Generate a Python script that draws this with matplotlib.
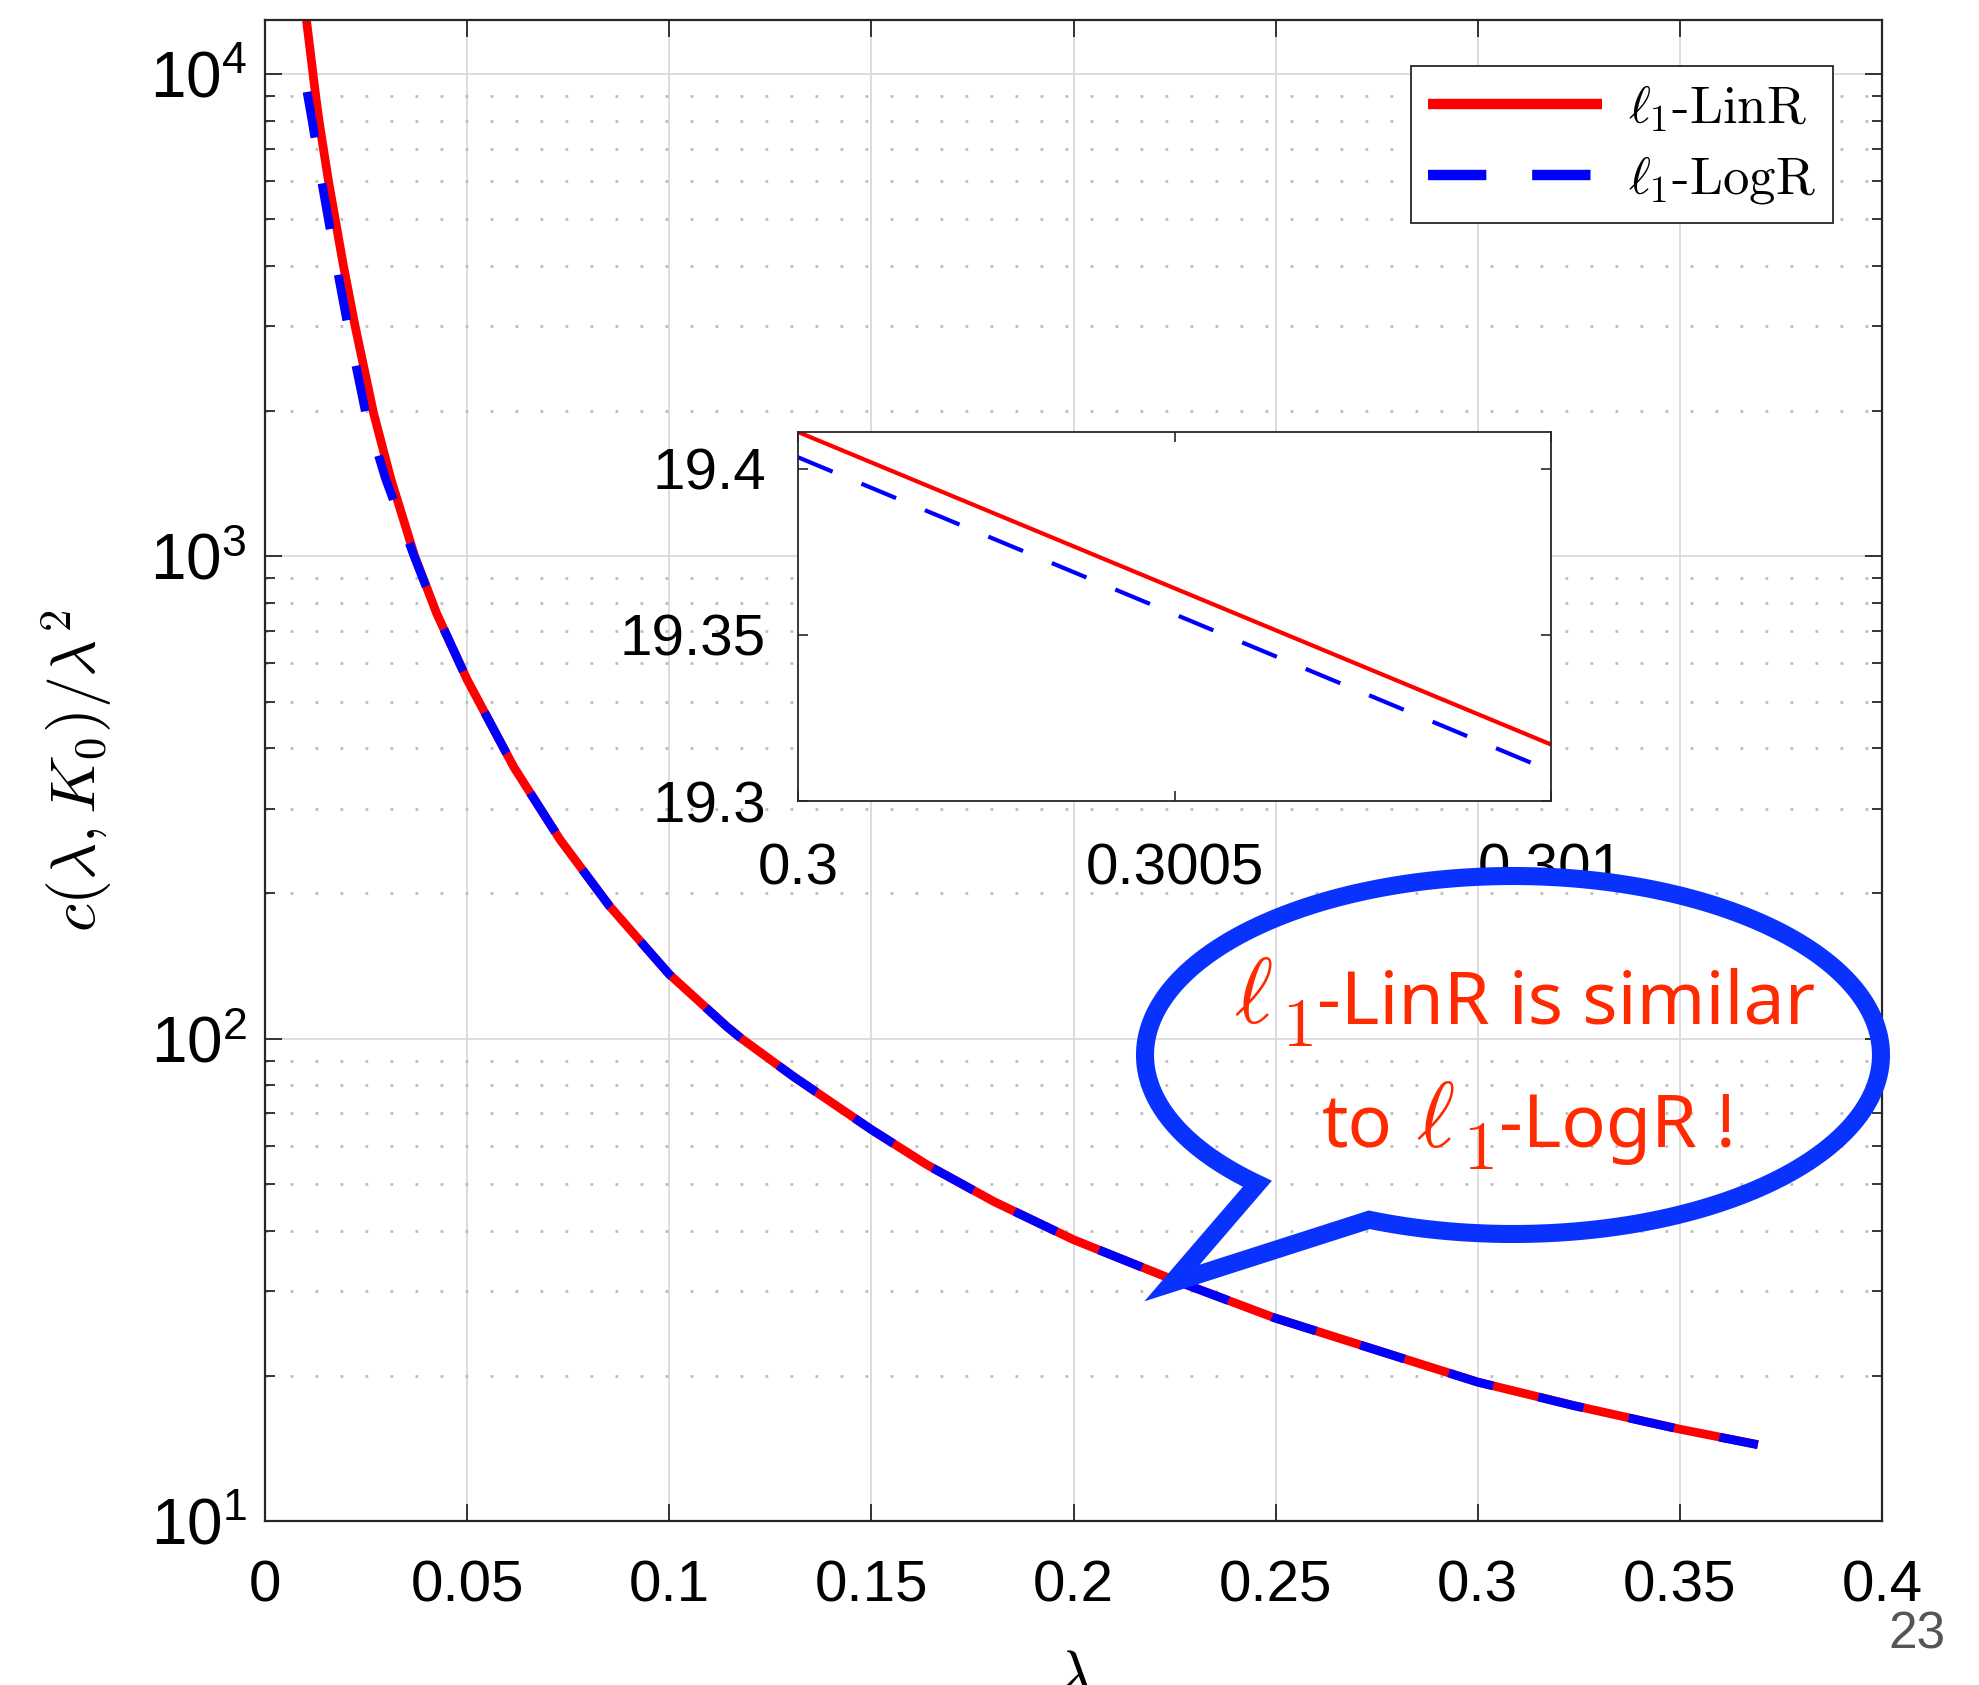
import numpy as np
import matplotlib
matplotlib.use('Agg')
import matplotlib.pyplot as plt
from matplotlib.path import Path
from matplotlib.patches import PathPatch
from matplotlib.ticker import NullLocator, NullFormatter

plt.rcParams['font.family'] = ['Liberation Sans', 'DejaVu Sans']
plt.rcParams['mathtext.fontset'] = 'custom'
plt.rcParams['mathtext.rm'] = 'Liberation Sans'
plt.rcParams['mathtext.it'] = 'Liberation Sans:italic'
plt.rcParams['mathtext.bf'] = 'Liberation Sans:bold'

# l1-LinR curve
lam_lin = [0.0098, 0.01262, 0.01346, 0.01576, 0.01747, 0.01942, 0.0223, 0.02684,
           0.0311, 0.03705, 0.0425, 0.050, 0.0616, 0.073, 0.0853, 0.100, 0.1142,
           0.1179, 0.1307, 0.150, 0.1637, 0.1802, 0.200, 0.2244, 0.2496, 0.300,
           0.3238, 0.350, 0.3693]
c_lin = [13900, 8900, 7900, 5960, 4945, 3995, 2998, 1983,
         1450, 1000, 760, 555, 365, 258.5, 188, 136, 106,
         100, 83.5, 64.8, 54.8, 46, 38.3, 31.7, 26.4, 19.41,
         17.35, 15.5, 14.4]

# l1-LogR curve (starts a bit later, sits just under LinR at small lambda)
lam_log = [0.0104, 0.01176, 0.01406, 0.01577, 0.01772, 0.0205, 0.0249,
           0.0298, 0.0369, 0.0425, 0.050, 0.0616, 0.073, 0.0853, 0.100, 0.1142,
           0.1179, 0.1307, 0.150, 0.1637, 0.1802, 0.200, 0.2244, 0.2496, 0.300,
           0.3238, 0.350, 0.3693]
c_log = [9180, 7900, 5960, 4945, 3995, 2998, 1983,
         1450, 1000, 759.8, 554.9, 364.9, 258.4, 187.9, 135.95, 105.96,
         99.96, 83.47, 64.78, 54.78, 45.98, 38.29, 31.69, 26.39, 19.403,
         17.34, 15.49, 14.39]

# zoomed window around lambda = 0.3
inset_lam = [0.3, 0.301]
inset_lin = [19.411, 19.317]
inset_log = [19.4034, 19.309]

xtick_vals = [0, 0.05, 0.1, 0.15, 0.2, 0.25, 0.3, 0.35, 0.4]
xtick_labels = ['0', '0.05', '0.1', '0.15', '0.2', '0.25', '0.3', '0.35', '0.4']
ytick_vals = [10, 100, 1000, 10000]
ytick_labels = [r'$10^{1}$', r'$10^{2}$', r'$10^{3}$', r'$10^{4}$']
inset_xticks = [0.3, 0.3005, 0.301]
inset_xlabels = ['0.3', '0.3005', '0.301']
inset_yticks = [19.3, 19.35, 19.4]
inset_ylabels = ['19.3', '19.35', '19.4']

W, H = 1979, 1685
fig = plt.figure(figsize=(W / 100, H / 100), dpi=100)

# ---------------- main axes ----------------
ax = fig.add_axes([265 / W, 1 - 1521 / H, 1617 / W, 1501 / H])
ax.set_yscale('log')
ax.plot(lam_lin, c_lin, color='r', lw=6.3, solid_capstyle='butt',
        solid_joinstyle='round', label=r'$\ell_1$-LinR')
ax.plot(lam_log, c_log, color='b', lw=6.3, dashes=(5.3, 5.3), dash_capstyle='butt',
        dash_joinstyle='round', label=r'$\ell_1$-LogR')
ax.set_xlim(0, 0.4)
ax.set_ylim(10, 12940)

ax.set_xticks(xtick_vals)
ax.set_xticklabels(xtick_labels)
ax.set_yticks(ytick_vals)
ax.set_yticklabels(ytick_labels)
ax.xaxis.set_minor_locator(NullLocator())
ax.yaxis.set_minor_formatter(NullFormatter())

ax.set_axisbelow(True)
ax.grid(True, which='major', color='#dadada', lw=1.3, ls='-')
ax.grid(True, which='minor', axis='y', color='#bcbcbc', lw=2, ls=(0, (1, 8)))

ax.tick_params(which='both', direction='in', top=True, right=True,
               color='#262626', width=1.3)
ax.tick_params(which='major', length=12)
ax.tick_params(which='minor', length=7)
ax.tick_params(axis='x', pad=28, labelsize=42)
ax.tick_params(axis='y', pad=13, labelsize=46)
for sp in ax.spines.values():
    sp.set_linewidth(1.6)
    sp.set_color('#262626')

ax.set_ylabel(r'$c(\lambda, K_0)/\lambda^2$', fontsize=46, math_fontfamily='cm')
ax.yaxis.set_label_coords(-0.0934, 0.5)
ax.set_xlabel(r'$\lambda$', fontsize=46, math_fontfamily='cm')
ax.xaxis.set_label_coords(0.5, -0.084)

leg = ax.legend(loc='upper right', bbox_to_anchor=(0.9697, 0.9694), borderaxespad=0,
                prop={'family': 'cmr10', 'size': 38}, handlelength=3.3,
                handletextpad=0.5, labelspacing=0.38, borderpad=0.32,
                fancybox=False, edgecolor='#262626', framealpha=1)
leg.get_frame().set_linewidth(1.3)
for t in leg.get_texts():
    t.set_math_fontfamily('cm')
leg.get_lines()[0].set_linewidth(7.5)
leg.get_lines()[1].set_linewidth(7.5)
leg.get_lines()[1].set_dashes((5.6, 4.4))

# ---------------- inset ----------------
axin = fig.add_axes([798 / W, 1 - 801 / H, 753 / W, 369 / H], zorder=5)
axin.plot(inset_lam, inset_lin, color='r', lw=3)
axin.plot(inset_lam, inset_log, color='b', lw=3, dashes=(9, 7.5))
axin.set_xlim(0.3, 0.301)
axin.set_ylim(19.3, 19.411)
axin.set_xticks(inset_xticks)
axin.set_xticklabels(inset_xlabels)
axin.set_yticks(inset_yticks)
axin.set_yticklabels(inset_ylabels)
axin.tick_params(direction='in', top=True, right=True, length=7, width=1.2,
                 color='#262626', labelsize=42)
axin.tick_params(axis='x', pad=30)
axin.tick_params(axis='y', pad=23)
for sp in axin.spines.values():
    sp.set_linewidth(1.3)
    sp.set_color('#262626')

# ---------------- speech bubble overlay (pixel coords) ----------------
ov = fig.add_axes([0, 0, 1, 1], zorder=10)
ov.set_xlim(0, W)
ov.set_ylim(H, 0)
ov.axis('off')

cx, cy, a, b = 1513, 1055, 368, 179
t = np.linspace(np.deg2rad(134), np.deg2rad(473), 240)
arc = np.column_stack([cx + a * np.cos(t), cy + b * np.sin(t)])
tip = [1172, 1283]
verts = np.vstack([arc, [tip], [arc[0]]])
codes = [Path.MOVETO] + [Path.LINETO] * (len(verts) - 2) + [Path.CLOSEPOLY]
bubble = PathPatch(Path(verts, codes), fill=False, edgecolor='#0a32ff', lw=13,
                   joinstyle='miter')
ov.add_patch(bubble)

red = '#ff2a00'
sans = dict(fontsize=53, color=red, family='Noto Sans', va='baseline', ha='left')
ell = dict(fontsize=66, color=red, math_fontfamily='cm', va='baseline', ha='left')
one = dict(fontsize=49, color=red, family='cmr10', va='baseline', ha='left')

# line 1
ov.text(1234, 1023, r'$\ell$', **ell)
ov.text(1282, 1046, '1', **one)
ov.text(1317, 1023, '-LinR is similar', **sans)
# line 2
ov.text(1322, 1147, 'to', **sans)
ov.text(1416, 1147, r'$\ell$', **ell)
ov.text(1463, 1169, '1', **one)
ov.text(1499, 1147, '-LogR !', **sans)

ov.text(1917, 1635, '23', ha='center', va='center', fontsize=37, color='#555555')

fig.savefig('out.png', dpi=100)
